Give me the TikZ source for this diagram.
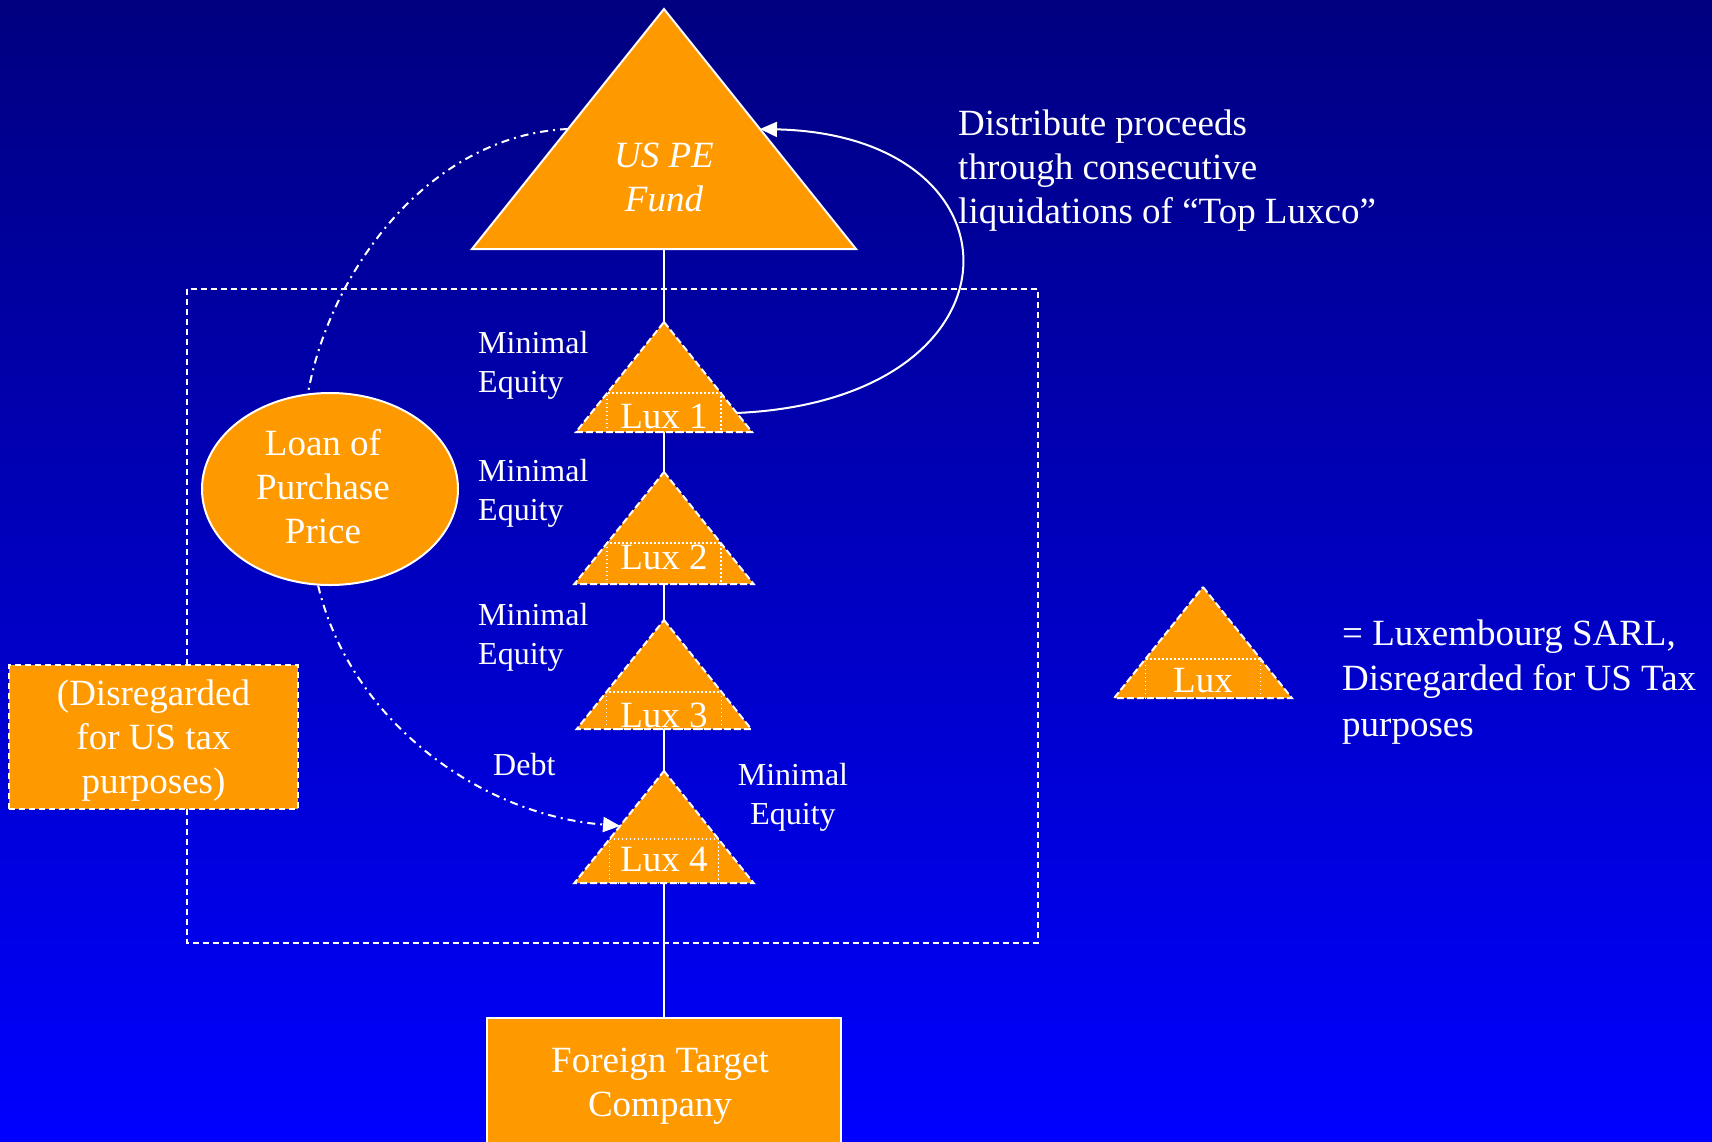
\documentclass[tikz,border=0pt]{standalone}
\usepackage{fontspec}
\setmainfont{Liberation Serif}
\usetikzlibrary{arrows.meta,shapes.geometric,calc}

\definecolor{entityorange}{HTML}{FF9900}
\definecolor{skytop}{HTML}{000080}
\definecolor{skybottom}{HTML}{0000FF}

\tikzset{
  bigtext/.style={font=\fontsize{37}{44}\selectfont, text=white, inner sep=0pt},
  smalltext/.style={font=\fontsize{32}{39}\selectfont, text=white, inner sep=0pt},
  entity/.style={fill=entityorange, draw=white, line width=2pt},
  dashedentity/.style={fill=entityorange, draw=white, line width=2pt, dash pattern=on 7pt off 3pt},
  luxinner/.style={draw=white, line width=1.5pt, dash pattern=on 1.5pt off 2.5pt},
  link/.style={draw=white, line width=1.8pt},
  frame/.style={draw=white, line width=1.5pt, dash pattern=on 6pt off 4pt},
  loanpath/.style={draw=white, line width=2pt, dash pattern=on 8pt off 5pt on 2pt off 5pt},
  tip/.style={-{Triangle[length=17pt,width=15pt]}},
}

% Luxembourg SARL triangle: name, apex x, apex y, height, inner box height,
% label baseline lift above the base, label
\newcommand\luxtri[7]{%
  \path[dashedentity] (#2,#3) -- ++({0.8*#4},#4) -- ++({-1.6*#4},0) -- cycle;
  \draw[luxinner] ({#2-0.8*(#4-#5)},{#3+#4}) rectangle ({#2+0.8*(#4-#5)},{#3+#4-#5});
  \node[bigtext, anchor=base] (#1) at (#2,{#3+#4-#6}) {#7};
  \coordinate (#1-top) at (#2,#3);
  \coordinate (#1-bot) at (#2,{#3+#4});
  \coordinate (#1-bl) at ({#2-0.8*#4},{#3+#4});
  \coordinate (#1-br) at ({#2+0.8*#4},{#3+#4});
}

% multi-line labels below are placed by the baseline of their last line
\begin{document}
\begin{tikzpicture}[x=1pt,y=-1pt]
  \useasboundingbox (0,0) rectangle (1712,1141);
  \clip (0,0) rectangle (1712,1141);
  \fill[top color=skytop, bottom color=skybottom] (0,0) rectangle (1712,1141);

  % dashed boundary of the Luxembourg structure
  \draw[frame] (187,289) rectangle (1038,943);

  % fund at the top
  \path[entity] (664,9) -- (856,249) -- (472,249) -- cycle;
  \coordinate (fund-apex) at (664,9);
  \coordinate (fund-bl) at (472,249);
  \coordinate (fund-br) at (856,249);
  \coordinate (fund-base) at (664,249);
  \node[bigtext, font=\fontsize{37}{44}\selectfont\itshape, align=center, anchor=base]
    (fund) at (664,211) {US PE\\Fund};

  % chain of Luxcos
  \luxtri{lux1}{664}{322}{110}{39}{4}{Lux 1}
  \luxtri{lux2}{664}{472}{112}{41}{15}{Lux 2}
  \luxtri{lux3}{664}{620}{109}{37}{2}{Lux 3}
  \luxtri{lux4}{664}{771}{112}{44}{12}{Lux 4}

  % target company
  \node[entity, minimum width=354pt, minimum height=160pt, anchor=north, inner sep=0pt]
    (target) at (664,1017) {};
  \node[bigtext, align=center, anchor=base] (targettext) at (660,1116)
    {Foreign Target\\Company};

  % ownership links
  \draw[link] (fund-base) -- (lux1-top);
  \draw[link] (lux1-bot) -- (lux2-top);
  \draw[link] (lux2-bot) -- (lux3-top);
  \draw[link] (lux3-bot) -- (lux4-top);
  \draw[link] (lux4-bot) -- (target.north);

  % equity labels
  \node[smalltext, align=left, anchor=base west] (eq1) at (478,392) {Minimal\\Equity};
  \node[smalltext, align=left, anchor=base west] (eq2) at (478,520) {Minimal\\Equity};
  \node[smalltext, align=left, anchor=base west] (eq3) at (478,664) {Minimal\\Equity};
  \node[smalltext, align=center, anchor=base] (eq4) at (793,824) {Minimal\\Equity};

  % disregarded entity note
  \node[entity, frame, fill=entityorange, minimum width=289pt, minimum height=144pt, inner sep=0pt]
    (disregarded) at (153.5,737) {};
  \node[bigtext, align=center, anchor=base] (disregardedtext) at (153.5,793)
    {(Disregarded\\for US tax\\purposes)};

  % loan of purchase price
  \node[entity, ellipse, minimum width=256pt, minimum height=192pt, inner sep=0pt]
    (loan) at (330,489) {};
  \node[bigtext, align=center, anchor=base] (loantext) at (323,543)
    {Loan of\\Purchase\\Price};

  \coordinate (fund-l) at ($(fund-apex)!0.5!(fund-bl)$);
  \coordinate (fund-r) at ($(fund-apex)!0.5!(fund-br)$);
  \coordinate (lux1-r) at ($(lux1-top)!0.827!(lux1-br)$);
  \coordinate (lux4-l) at ($(lux4-top)!0.49!(lux4-bl)$);

  \draw[loanpath] (fund-l) .. controls (430,135) and (330,270) .. (loan.103);
  \draw[loanpath, tip] (loan.263) .. controls (350,720) and (480,815) .. (lux4-l);
  \node[smalltext, anchor=base west] (debt) at (493,775) {Debt};

  % distribution of proceeds
  \draw[link, line width=2pt, tip] (lux1-r) .. controls (1032,400) and (1032,135) .. (fund-r);
  \node[bigtext, align=left, anchor=base west] (distribute) at (958,223)
    {Distribute proceeds\\through consecutive\\liquidations of “Top Luxco”};

  % legend
  \luxtri{legendlux}{1203}{587}{111}{39}{6}{Lux}
  \node[bigtext, font=\fontsize{37}{45.5}\selectfont, align=left, anchor=base west]
    (legendtext) at (1342,736)
    {= Luxembourg SARL,\\Disregarded for US Tax\\purposes};
\end{tikzpicture}
\end{document}
